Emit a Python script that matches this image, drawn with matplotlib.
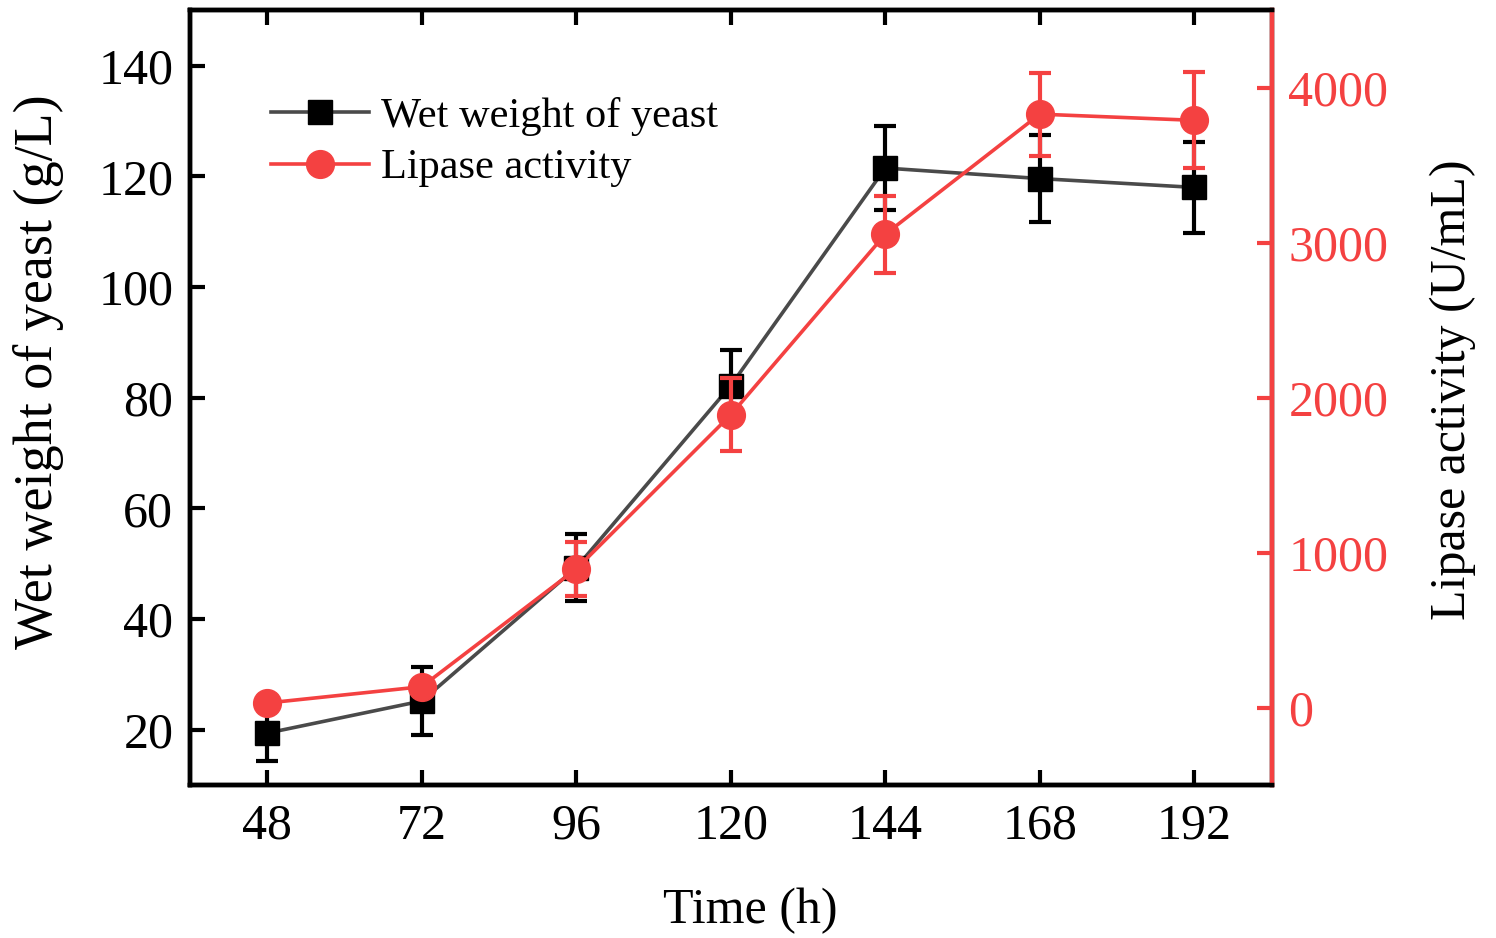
import numpy as np
import matplotlib
matplotlib.use('Agg')
import matplotlib.pyplot as plt
from matplotlib.lines import Line2D

plt.rcParams['font.family'] = ['Liberation Serif', 'DejaVu Serif']

time_h = [48, 72, 96, 120, 144, 168, 192]
wet_weight = [19.4, 25.2, 49.3, 82.2, 121.5, 119.6, 118.0]
wet_err = [5.0, 6.1, 6.0, 6.4, 7.6, 7.8, 8.2]
lipase = [30, 135, 895, 1890, 3055, 3830, 3790]
lipase_err = [25, 35, 175, 235, 248, 267, 310]

red = '#f44141'
grey = '#4a4a4a'

fig = plt.figure(figsize=(14.96, 9.38), dpi=100)
ax1 = fig.add_axes([0.127, 0.163, 0.723, 0.826])
ax2 = ax1.twinx()

ax1.errorbar(time_h, wet_weight, yerr=wet_err, color=grey, lw=2.6,
             marker='s', ms=17, mfc='black', mec='black',
             ecolor='black', elinewidth=3, capsize=8, capthick=3)
ax2.errorbar(time_h, lipase, yerr=lipase_err, color=red, lw=2.6,
             marker='o', ms=20, mfc=red, mec=red,
             ecolor=red, elinewidth=3, capsize=8, capthick=3)

ax1.set_xlim(36, 204)
ax1.set_ylim(10, 150)
ax2.set_ylim(-500, 4500)
ax1.set_xticks(time_h)
ax1.set_yticks(np.arange(20, 141, 20))
ax2.set_yticks(np.arange(0, 4001, 1000))

for sp in ax1.spines.values():
    sp.set_linewidth(3.2)
for sp in ax2.spines.values():
    sp.set_linewidth(3.2)
ax2.spines['right'].set_color(red)

ax1.tick_params(axis='both', direction='in', length=11, width=3,
                labelsize=36, pad=13, top=True)
ax1.tick_params(axis='y', pad=12)
ax2.tick_params(axis='y', direction='in', length=11, width=3,
                labelsize=36, pad=12, colors=red)

ax1.set_xlabel('Time (h)', fontsize=36, labelpad=27)
ax1.xaxis.label.set_x(0.518)
ax1.set_ylabel('Wet weight of yeast (g/L)', fontsize=39, labelpad=25)
ax1.yaxis.label.set_y(0.534)
ax2.set_ylabel('Lipase activity (U/mL)', fontsize=36, labelpad=30)
ax2.yaxis.label.set_y(0.51)

handles = [
    Line2D([], [], color=grey, lw=2.6, marker='s', ms=17, mfc='black', mec='black'),
    Line2D([], [], color=red, lw=2.6, marker='o', ms=20, mfc=red, mec=red),
]
labels = ['Wet weight of yeast', 'Lipase activity']
ax2.legend(handles, labels, loc='upper left', bbox_to_anchor=(0.075, 0.888),
           frameon=False, fontsize=30.5, handlelength=2.3, handletextpad=0.3,
           labelspacing=0.3, borderpad=0, borderaxespad=0)

fig.savefig('out.png', dpi=100)
